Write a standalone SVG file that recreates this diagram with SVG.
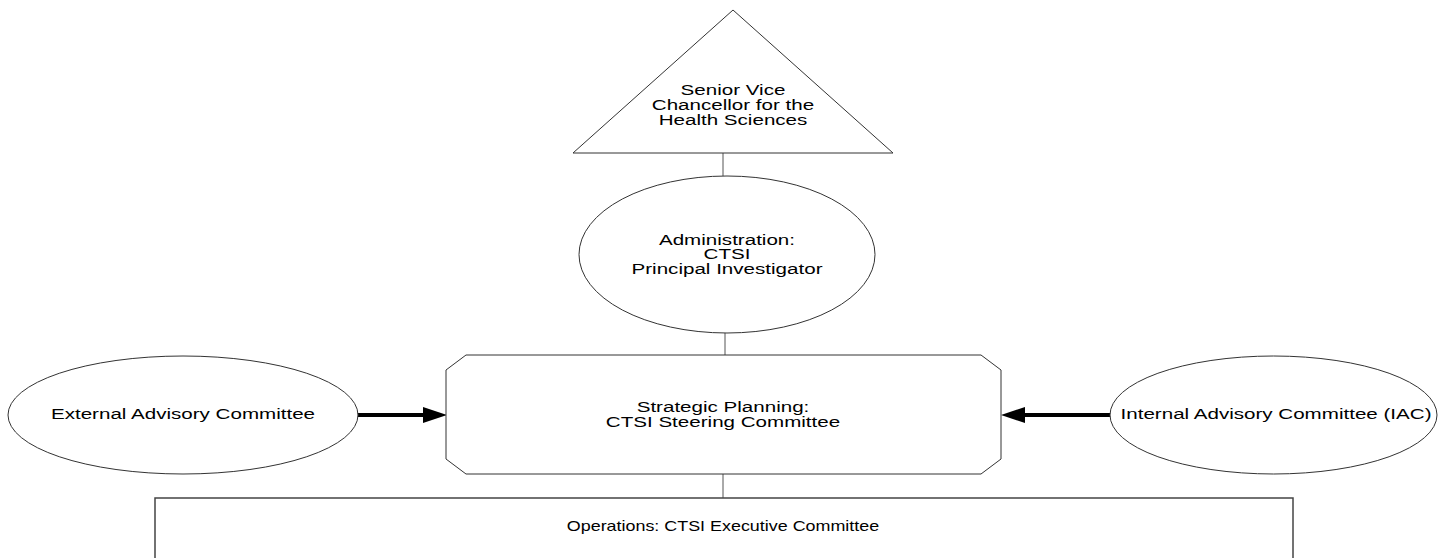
<svg xmlns="http://www.w3.org/2000/svg" width="1447" height="558" viewBox="0 0 1447 558">
<style>
.shape{fill:#ffffff;stroke:#333333;stroke-width:1}
.conn{stroke:#555555;stroke-width:1;fill:none}
.thick{stroke:#000000;stroke-width:4;stroke-linecap:round;fill:none}
.head{fill:#000000;stroke:none}
text{font-family:"Liberation Sans",Arial,sans-serif;font-size:14px;fill:#000000;text-anchor:middle}
</style>
<rect x="0" y="0" width="1447" height="558" fill="#ffffff"/>
<g id="connectors">
<line class="conn" x1="723" y1="153" x2="723" y2="176"/>
<line class="conn" x1="725" y1="333" x2="725" y2="355"/>
<line class="conn" x1="723" y1="474" x2="723" y2="498"/>
<line class="thick" x1="358" y1="415" x2="426" y2="415"/>
<polygon class="head" points="423,407 447,415 423,423"/>
<line class="thick" x1="1110" y1="415" x2="1022" y2="415"/>
<polygon class="head" points="1025,407 1001,415 1025,423"/>
</g>
<g id="senior-vice-chancellor">
<polygon class="shape" points="733,10 893,153 573,153"/>
<g transform="translate(733,0) scale(1.47,1)">
<text x="0" y="95">Senior Vice</text>
<text x="0" y="110">Chancellor for the</text>
<text x="0" y="125">Health Sciences</text>
</g>
</g>
<g id="administration">
<ellipse class="shape" cx="727" cy="254.5" rx="148" ry="78.5"/>
<g transform="translate(727,0) scale(1.47,1)">
<text x="0" y="245">Administration:</text>
<text x="0" y="259">CTSI</text>
<text x="0" y="274">Principal Investigator</text>
</g>
</g>
<g id="strategic-planning">
<polygon class="shape" points="466,355 981,355 1001,370 1001,459 981,474 466,474 446,459 446,370"/>
<g transform="translate(723,0) scale(1.47,1)">
<text x="0" y="412">Strategic Planning:</text>
<text x="0" y="427">CTSI Steering Committee</text>
</g>
</g>
<g id="external-advisory">
<ellipse class="shape" cx="183" cy="415" rx="175" ry="59"/>
<g transform="translate(183,0) scale(1.47,1)">
<text x="0" y="419">External Advisory Committee</text>
</g>
</g>
<g id="internal-advisory">
<ellipse class="shape" cx="1273.5" cy="415" rx="163.5" ry="59"/>
<g transform="translate(1276,0) scale(1.47,1)">
<text x="0" y="419">Internal Advisory Committee (IAC)</text>
</g>
</g>
<g id="operations">
<rect x="155" y="498" width="1138" height="80" fill="#ffffff" stroke="#444444" stroke-width="1.5"/>
<g transform="translate(723,0) scale(1.28,1)">
<text x="0" y="531">Operations: CTSI Executive Committee</text>
</g>
</g>
</svg>
